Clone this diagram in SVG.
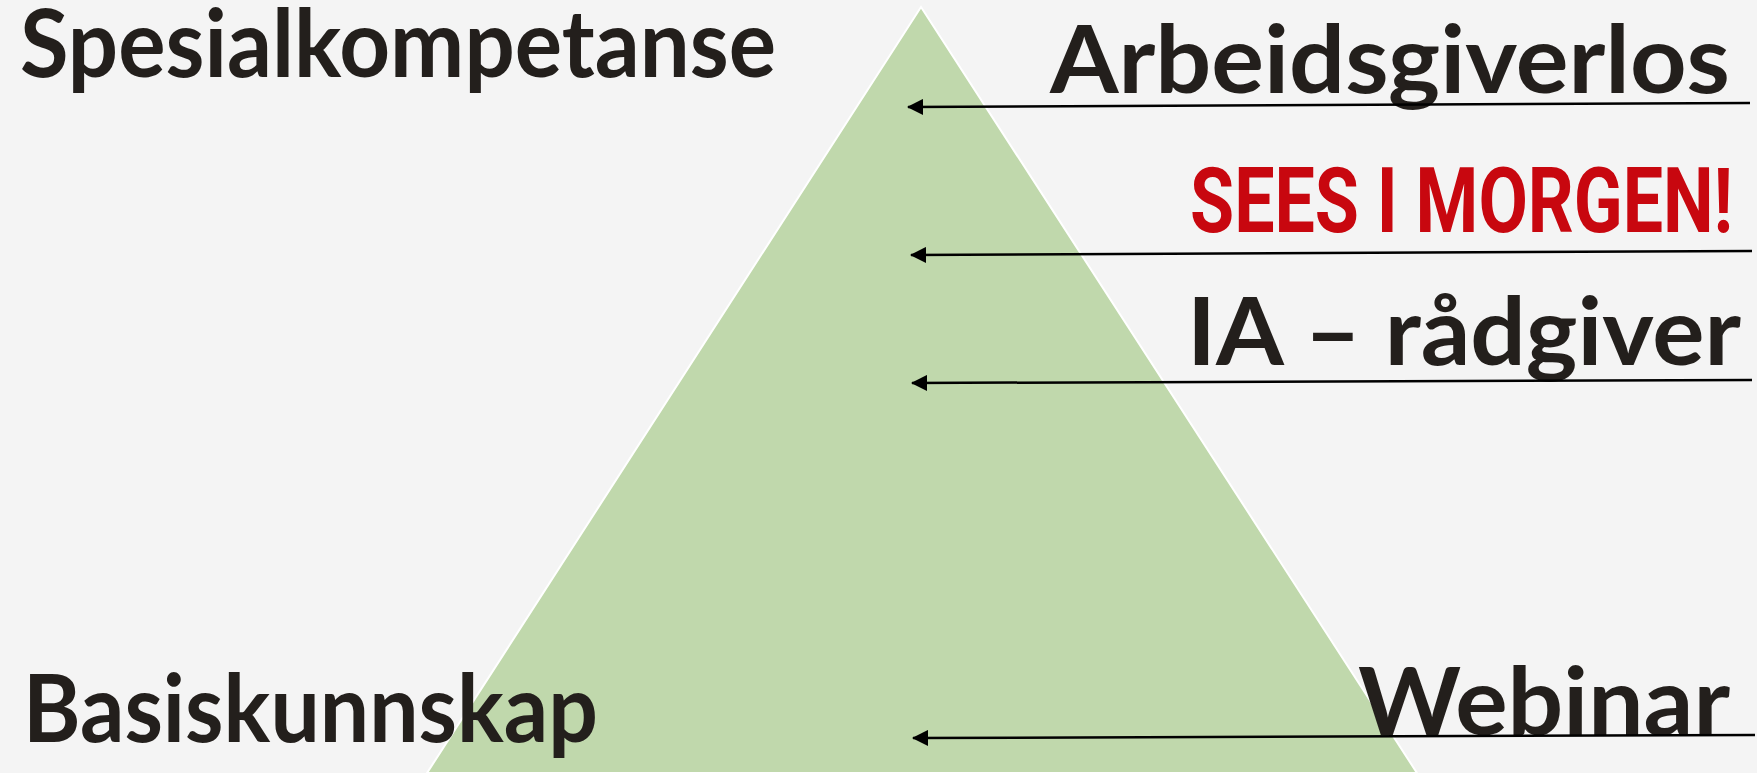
<svg xmlns="http://www.w3.org/2000/svg" width="1757" height="773" viewBox="0 0 1757 773">
  <style>
    .lbl { font-family: Lato, "Open Sans", "Liberation Sans", sans-serif; font-weight: 700; font-size: 93px; fill: #231F1C; }
    .r { text-anchor: end; }
    .red { font-family: Roboto, "DejaVu Sans", sans-serif; font-weight: 700; font-size: 75px; fill: #C8070F; text-anchor: end; }
    .conn { stroke: #000; stroke-width: 2.5; fill: none; }
  </style>
  <defs>
    <marker id="arrow" viewBox="0 0 16 16" refX="15" refY="8" markerWidth="16" markerHeight="16" orient="auto" markerUnits="userSpaceOnUse">
      <path d="M0,0 L16,8 L0,16 Z" fill="#000"/>
    </marker>
  </defs>
  <rect width="1757" height="773" fill="#F4F4F4"/>
  <g id="pyramid">
    <polygon points="921,7 1417,773 427,773" fill="#C0D8AC" stroke="#FFFFFF" stroke-width="2"/>
  </g>
  <g id="spesialkompetanse">
    <text class="lbl" x="20" y="77" textLength="756" lengthAdjust="spacingAndGlyphs">Spesialkompetanse</text>
  </g>
  <g id="basiskunnskap">
    <text class="lbl" x="23" y="742" textLength="575" lengthAdjust="spacingAndGlyphs">Basiskunnskap</text>
  </g>
  <g id="arbeidsgiverlos">
    <text class="lbl r" x="1730" y="93" textLength="680" lengthAdjust="spacingAndGlyphs">Arbeidsgiverlos</text>
  </g>
  <g id="sees-i-morgen" transform="translate(1733,232) scale(1,1.22)">
    <text class="red" x="0" y="0" textLength="543" lengthAdjust="spacingAndGlyphs">SEES I MORGEN!</text>
  </g>
  <g id="ia-radgiver">
    <text class="lbl r" x="1741" y="365" textLength="554" lengthAdjust="spacingAndGlyphs">IA – rådgiver</text>
  </g>
  <g id="webinar">
    <text class="lbl r" x="1730" y="735" textLength="372" lengthAdjust="spacingAndGlyphs">Webinar</text>
  </g>
  <g id="connectors">
    <line class="conn" x1="1750" y1="103" x2="908" y2="107" marker-end="url(#arrow)"/>
    <line class="conn" x1="1752" y1="251" x2="911" y2="255" marker-end="url(#arrow)"/>
    <line class="conn" x1="1752" y1="380" x2="912" y2="383" marker-end="url(#arrow)"/>
    <line class="conn" x1="1755" y1="735" x2="913" y2="738" marker-end="url(#arrow)"/>
  </g>
</svg>
